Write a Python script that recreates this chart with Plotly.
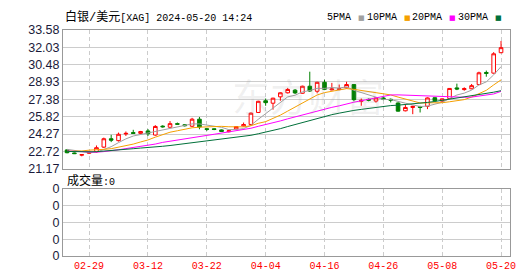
import pandas as pd
import plotly.graph_objects as go

# ---------------- data ----------------
dates = ["02-26", "02-27", "02-28", "02-29", "03-01", "03-04", "03-05", "03-06", "03-07", "03-08",
         "03-11", "03-12", "03-13", "03-14", "03-15", "03-18", "03-19", "03-20", "03-21", "03-22",
         "03-25", "03-26", "03-27", "03-28", "04-01", "04-02", "04-03", "04-04", "04-05", "04-08",
         "04-09", "04-10", "04-11", "04-12", "04-15", "04-16", "04-17", "04-18", "04-19", "04-22",
         "04-23", "04-24", "04-25", "04-26", "04-29", "04-30", "05-01", "05-02", "05-03", "05-06",
         "05-07", "05-08", "05-09", "05-10", "05-13", "05-14", "05-15", "05-16", "05-17", "05-20"]

opens = [22.85, 22.58, 22.38, 22.55, 22.69, 23.10, 23.85, 23.68, 24.28, 24.40,
         24.33, 24.55, 24.18, 24.98, 24.88, 25.20, 25.10, 24.97, 25.60, 24.75,
         24.74, 24.64, 24.48, 24.73, 25.00, 25.13, 26.20, 27.25, 27.03, 27.60,
         27.96, 28.20, 27.92, 28.55, 28.10, 28.90, 28.22, 28.25, 28.40, 28.70,
         27.20, 27.38, 27.22, 27.50, 27.38, 27.05, 26.35, 26.65, 26.72, 26.75,
         27.52, 27.22, 27.45, 28.40, 28.25, 28.32, 28.70, 29.78, 29.72, 31.55]
highs = [22.92, 22.62, 22.45, 22.72, 23.25, 23.95, 24.20, 24.40, 24.50, 24.65,
         24.55, 24.72, 25.07, 25.05, 25.43, 25.30, 25.15, 25.72, 25.80, 24.82,
         24.78, 24.68, 24.62, 24.98, 25.30, 26.20, 27.25, 27.45, 27.52, 28.00,
         28.40, 28.30, 28.60, 29.85, 28.95, 29.13, 28.85, 28.70, 28.95, 28.75,
         27.45, 27.45, 27.55, 27.60, 27.45, 27.10, 26.90, 26.80, 26.80, 27.55,
         27.55, 27.45, 28.38, 28.78, 28.45, 28.75, 29.85, 29.95, 31.60, 32.60]
lows = [22.55, 22.48, 22.28, 22.50, 22.60, 23.02, 23.55, 23.60, 24.10, 24.28,
        24.30, 24.10, 24.12, 24.85, 24.82, 25.10, 24.95, 24.90, 24.70, 24.55,
        24.62, 24.45, 24.42, 24.68, 24.95, 25.10, 26.15, 26.80, 26.45, 27.25,
        27.90, 27.85, 27.88, 28.05, 27.92, 28.20, 28.18, 28.20, 28.35, 27.20,
        26.80, 27.20, 27.08, 27.30, 27.10, 26.28, 26.30, 26.05, 26.20, 26.50,
        27.20, 27.15, 27.42, 28.20, 28.15, 28.28, 28.65, 29.40, 29.68, 31.50]
closes = [22.60, 22.52, 22.43, 22.65, 23.05, 23.85, 23.72, 24.25, 24.33, 24.33,
          24.50, 24.30, 24.95, 24.92, 25.20, 25.15, 25.02, 25.60, 24.90, 24.68,
          24.68, 24.50, 24.56, 24.94, 25.12, 26.14, 27.20, 27.08, 27.48, 27.96,
          28.26, 27.95, 28.55, 28.12, 28.90, 28.27, 28.30, 28.32, 28.70, 27.35,
          27.28, 27.30, 27.50, 27.40, 27.30, 26.32, 26.65, 26.75, 26.65, 27.50,
          27.25, 27.42, 28.35, 28.30, 28.33, 28.60, 29.75, 29.70, 31.45, 32.00]

# closes before the visible window (needed for the moving averages)
history_closes = [23.2, 22.9, 22.6, 22.6, 22.6, 22.0, 22.2, 22.9, 22.8, 22.8,
                  23.2, 23.2, 23.0, 23.2, 22.8, 22.4, 22.3, 22.2, 22.6, 22.7,
                  22.7, 22.0, 21.9, 22.9, 23.3, 23.1, 23.0, 22.9, 22.9]

ma_periods = [5, 10, 20, 30]
ma_names = ["5PMA", "10PMA", "20PMA", "30PMA"]
ma_colors = ["#a0a0a0", "#f5a000", "#ff00ff", "#00703a"]

price_ticks = ["21.17", "22.72", "24.27", "25.82", "27.38", "28.93", "30.48", "32.03", "33.58"]
vol_ticks = ["0", "0", "0", "0", "0"]
date_ticks = ["02-29", "03-12", "03-22", "04-04", "04-16", "04-26", "05-08", "05-20"]

title_text = '<span style="font-size:12px">白银/美元</span>[XAG] 2024-05-20 14:24'
vol_text = '<span style="font-size:12px">成交量</span>:0'

# ---------------- figure ----------------
W, H = 530, 276
ML, MR, MT, MB = 55, 28, 22, 21
PW, PH = W - ML - MR, H - MT - MB


def pxx(px):
    return (px - ML) / PW


def pxy(py):
    return (H - MB - py) / PH


idx = list(range(len(dates)))
full = pd.Series(history_closes + closes)

fig = go.Figure()
fig.add_trace(go.Candlestick(
    x=idx, open=opens, high=highs, low=lows, close=closes,
    increasing=dict(line=dict(color="#ff0000", width=1), fillcolor="#ffffff"),
    decreasing=dict(line=dict(color="#008000", width=1), fillcolor="#008000"),
    whiskerwidth=0, showlegend=False, hoverinfo="skip",
    xaxis="x", yaxis="y"))

for p, name, col in zip(ma_periods, ma_names, ma_colors):
    ma = full.rolling(p).mean().iloc[len(history_closes):].tolist()
    fig.add_trace(go.Scatter(x=idx, y=ma, mode="lines", name=name,
                             line=dict(color=col, width=1), showlegend=False,
                             hoverinfo="skip", xaxis="x", yaxis="y"))

# empty volume panel
fig.add_trace(go.Scatter(x=[], y=[], xaxis="x2", yaxis="y2", showlegend=False))

tickpos = [dates.index(d) for d in date_ticks]
grid = "#cccccc"
border = "#999999"
label_col = "#1a1a3a"

fig.update_layout(
    width=W, height=H, margin=dict(l=ML, r=MR, t=MT, b=MB),
    paper_bgcolor="white", plot_bgcolor="white", showlegend=False,
    xaxis=dict(domain=[0, 1], range=[-0.55, 60.22], anchor="y",
               tickvals=tickpos, showticklabels=False, ticks="",
               showgrid=True, gridcolor=grid, griddash="4px,3px", gridwidth=1,
               showline=True, mirror=True, linecolor=border, linewidth=1,
               zeroline=False, rangeslider=dict(visible=False), fixedrange=True),
    yaxis=dict(domain=[pxy(165), 1], range=[21.17, 33.58], anchor="x",
               tickvals=[float(t) for t in price_ticks], ticktext=price_ticks,
               ticks="", showgrid=True, gridcolor=grid, gridwidth=1,
               showline=True, mirror=True, linecolor=border, linewidth=1,
               zeroline=False, tickfont=dict(family="Liberation Sans", size=12.5, color=label_col)),
    xaxis2=dict(domain=[0, 1], matches="x", anchor="y2",
                tickvals=tickpos, ticktext=date_ticks, ticks="",
                tickfont=dict(family="Liberation Mono", size=10, color="#ff0000"),
                showgrid=True, gridcolor=grid, griddash="4px,3px", gridwidth=1,
                showline=True, mirror=True, linecolor=border, linewidth=1,
                zeroline=False),
    yaxis2=dict(domain=[0, pxy(186)], range=[0, 4], anchor="x2",
                tickvals=[0, 1, 2, 3, 4], ticktext=vol_ticks, ticks="",
                showgrid=True, gridcolor=grid, gridwidth=1,
                showline=True, mirror=True, linecolor=border, linewidth=1,
                zeroline=False, tickfont=dict(family="Liberation Sans", size=12.5, color=label_col)),
)

ann_font = dict(family="Liberation Mono, Noto Sans CJK SC", size=10, color="#000000")
fig.add_annotation(xref="paper", yref="paper", x=pxx(55), y=pxy(9), text=title_text,
                   showarrow=False, xanchor="left", yanchor="middle", font=ann_font)
fig.add_annotation(xref="paper", yref="paper", x=pxx(57), y=pxy(178), text=vol_text,
                   showarrow=False, xanchor="left", yanchor="middle", font=ann_font)

# legend: name followed by a colour swatch
leg_right = [345, 391, 436, 482]
for name, col, xr in zip(ma_names, ma_colors, leg_right):
    fig.add_annotation(xref="paper", yref="paper", x=pxx(xr), y=pxy(9), text=name,
                       showarrow=False, xanchor="right", yanchor="middle", font=ann_font)
    fig.add_annotation(xref="paper", yref="paper", x=pxx(xr + 3), y=pxy(9.5), text="■",
                       showarrow=False, xanchor="left", yanchor="middle",
                       font=dict(family="DejaVu Sans", size=7, color=col))

# faint watermark
fig.add_annotation(xref="paper", yref="paper", x=pxx(300), y=pxy(88), text="东方财富",
                   showarrow=False, xanchor="center", yanchor="middle",
                   font=dict(family="Noto Sans CJK SC", size=38, color="rgba(140,140,140,0.13)"))

fig.write_html("out.html")
